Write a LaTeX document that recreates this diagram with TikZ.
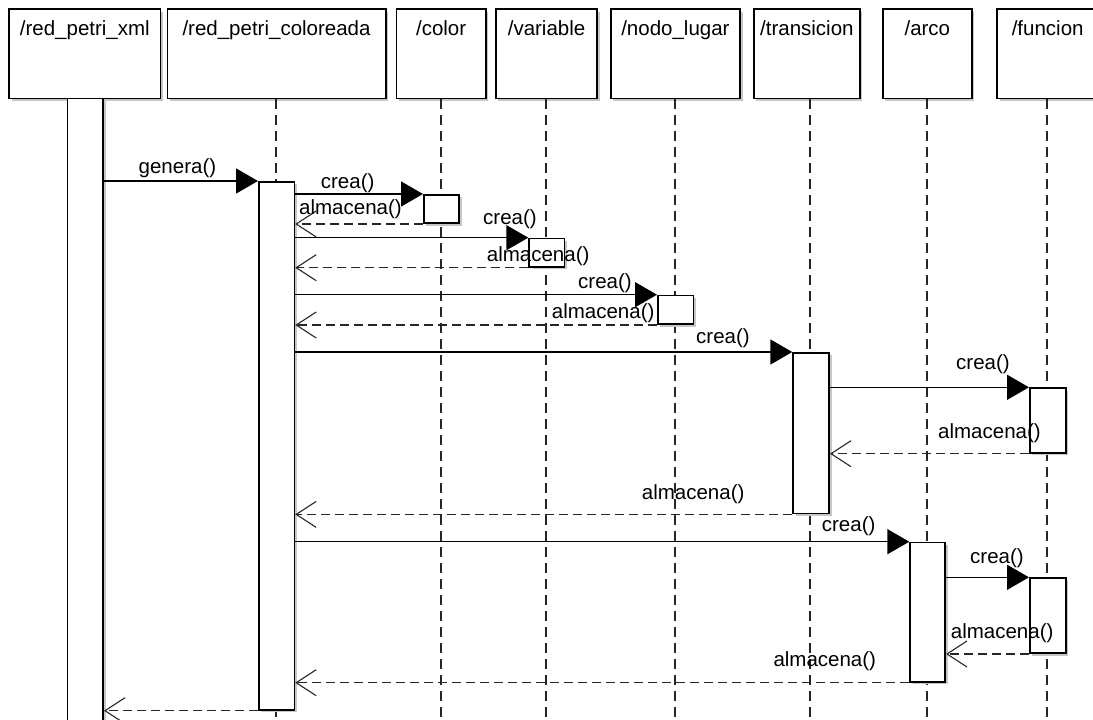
\documentclass[tikz,border=0pt]{standalone}
\usepackage{fontspec}
\setmainfont{Liberation Sans}
\usetikzlibrary{arrows.meta,shadows}
\newcommand{\hfnt}{\fontsize{20.5}{24}\selectfont}
\begin{document}
\begin{tikzpicture}[x=1pt,y=-1pt,
  boxbase/.style={draw=black, line width=1.7pt, fill=white, inner sep=0pt, anchor=north west,
    drop shadow={shadow xshift=2.5pt,shadow yshift=-2.5pt,fill=black!22,opacity=1}},
  hdr/.style={boxbase, minimum height=89.4pt, minimum width=#1},
  htext/.style={label={[anchor=base,inner sep=0pt,font=\hfnt,yshift=-27.4pt]north:#1}},
  act/.style={boxbase},
  msg/.style={draw=black, line width=1.4pt, -{Triangle[length=22pt,width=25pt]}},
  ret/.style={draw=black!85, line width=1.4pt, dash pattern=on 9pt off 5pt,
    -{Straight Barb[length=20pt,width=26pt,line width=1.1pt]}},
  life/.style={draw=black!85, line width=1.8pt, dash pattern=on 10pt off 6pt},
  lbl/.style={anchor=base west, inner sep=0pt, font=\hfnt},
]
\useasboundingbox (0,0) rectangle (1093,720);
\coordinate (bottom) at (0,725);

% header boxes
\node[hdr=151.2pt, htext={/red\_petri\_xml}] (hxml) at (8.4,8.3) {};
\node[hdr=218.2pt, htext={/red\_petri\_coloreada}] (hcol) at (166.6,8.3) {};
\node[hdr=89.4pt, htext={/color}] (hcolor) at (395.6,8.3) {};
\node[hdr=101.4pt, htext={/variable}] (hvar) at (495,8.3) {};
\node[hdr=129.5pt, htext={/nodo\_lugar}] (hnodo) at (609.8,8.3) {};
\node[hdr=106pt, htext={/transicion}] (htrans) at (753,8.3) {};
\node[hdr=89pt, htext={/arco}] (harco) at (882,8.3) {};
\node[hdr=101pt, htext={/funcion}] (hfun) at (996.3,8.3) {};

% activation positions
\path (66.7,97.7) coordinate (pxml) (258,181) coordinate (pcol)
      (423,194) coordinate (pcolor) (528.3,237.7) coordinate (pvar)
      (657,294.7) coordinate (pnodo) (792.3,352) coordinate (ptrans)
      (1029,387.3) coordinate (pfun1) (909.3,541.7) coordinate (parco)
      (1029,577.3) coordinate (pfun2);

% lifelines
\draw[life] ([xshift=17.75pt]pcol |- hcol.south) -- ([xshift=17.75pt]pcol |- bottom);
\draw[life] ([xshift=17.6pt]pcolor |- hcolor.south) -- ([xshift=17.6pt]pcolor |- bottom);
\draw[life] ([xshift=17.6pt]pvar |- hvar.south) -- ([xshift=17.6pt]pvar |- bottom);
\draw[life] ([xshift=17.8pt]pnodo |- hnodo.south) -- ([xshift=17.8pt]pnodo |- bottom);
\draw[life] ([xshift=18pt]ptrans |- htrans.south) -- ([xshift=18pt]ptrans |- bottom);
\draw[life] ([xshift=17.5pt]parco |- harco.south) -- ([xshift=17.5pt]parco |- bottom);
\draw[life] ([xshift=18pt]pfun1 |- hfun.south) -- ([xshift=18pt]pfun1 |- bottom);

% activations
\node[act, minimum width=35.6pt, minimum height=640pt] (xml) at (pxml) {};
\node[act, minimum width=35.5pt, minimum height=528pt] (col) at (pcol) {};
\node[act, minimum width=35.3pt, minimum height=28.3pt] (color) at (pcolor) {};
\node[act, minimum width=35.2pt, minimum height=28.3pt] (var) at (pvar) {};
\node[act, minimum width=35.7pt, minimum height=28.6pt] (nodo) at (pnodo) {};
\node[act, minimum width=36pt, minimum height=160.7pt] (trans) at (ptrans) {};
\node[act, minimum width=36pt, minimum height=64.7pt] (fun1) at (pfun1) {};
\node[act, minimum width=35pt, minimum height=139.3pt] (arco) at (parco) {};
\node[act, minimum width=36pt, minimum height=75pt] (fun2) at (pfun2) {};

% messages
\draw[msg] (xml.east |- col.north) -- (col.north west);
\draw[msg] (col.east |- color.north) -- (color.north west);
\draw[ret] (color.south west) -- (col.east |- color.south);
\draw[msg] (col.east |- var.north) -- (var.north west);
\draw[ret] (var.south west) -- (col.east |- var.south);
\draw[msg] (col.east |- nodo.north) -- (nodo.north west);
\draw[ret] (nodo.south west) -- (col.east |- nodo.south);
\draw[msg] (col.east |- trans.north) -- (trans.north west);
\draw[msg] (trans.east |- fun1.north) -- (fun1.north west);
\draw[ret] (fun1.south west) -- (trans.east |- fun1.south);
\draw[ret] (trans.south west) -- (col.east |- trans.south);
\draw[msg] (col.east |- arco.north) -- (arco.north west);
\draw[msg] (arco.east |- fun2.north) -- (fun2.north west);
\draw[ret] (fun2.south west) -- (arco.east |- fun2.south);
\draw[ret] (arco.south west) -- (col.east |- arco.south);
\draw[ret] (col.south west) -- (xml.east |- col.south);

% labels
\node[lbl] (l1) at (138.5,173) {genera()};
\node[lbl] (l2) at (320.7,188.5) {crea()};
\node[lbl] (l3) at (299,214.5) {almacena()};
\node[lbl] (l4) at (483,224.5) {crea()};
\node[lbl] (l5) at (486.7,261.5) {almacena()};
\node[lbl] (l6) at (578,288) {crea()};
\node[lbl] (l7) at (551.7,318) {almacena()};
\node[lbl] (l8) at (696,343) {crea()};
\node[lbl] (l9) at (956,369) {crea()};
\node[lbl] (l10) at (938,438) {almacena()};
\node[lbl] (l11) at (641.7,499.5) {almacena()};
\node[lbl] (l12) at (821.7,531.5) {crea()};
\node[lbl] (l13) at (970,563) {crea()};
\node[lbl] (l14) at (950.7,638) {almacena()};
\node[lbl] (l15) at (773.3,666.5) {almacena()};
\end{tikzpicture}
\end{document}
